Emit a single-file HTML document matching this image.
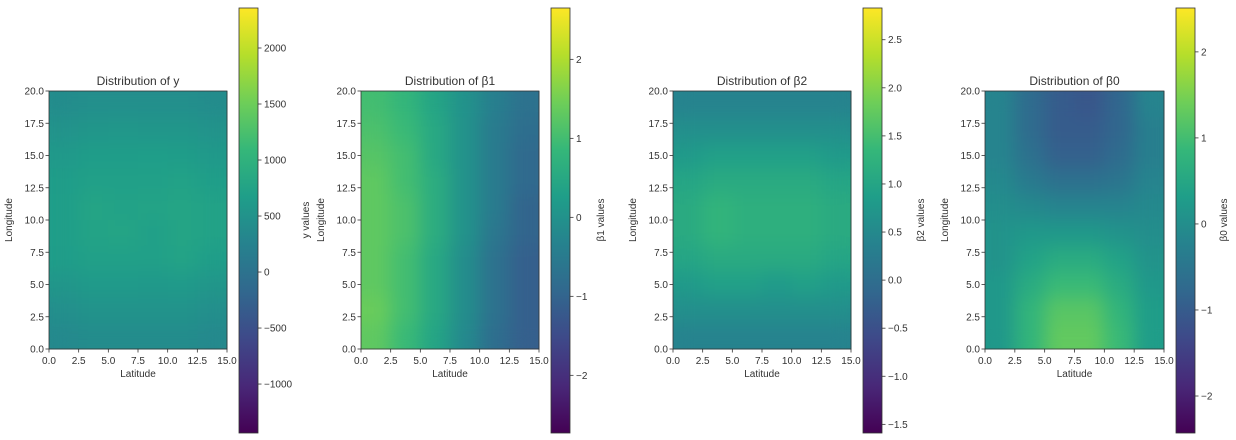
<!DOCTYPE html>
<html><head><meta charset="utf-8">
<style>
body{margin:0;background:#fff;width:1236px;height:440px;overflow:hidden}
svg{display:block}
text{font-family:"Liberation Sans","DejaVu Sans",sans-serif;fill:#333}
</style></head>
<body>
<svg id="fig" width="1236" height="440" xmlns="http://www.w3.org/2000/svg"></svg>
<script>
// ---- data (coarse field means, rows top->bottom, cols left->right) ----
const xTicks = [0, 2.5, 5, 7.5, 10, 12.5, 15];
const yTicks = [0, 2.5, 5, 7.5, 10, 12.5, 15, 17.5, 20];
const yField = [
 [400,450,450,450,450,400],
 [500,550,570,550,550,500],
 [600,650,650,670,650,600],
 [650,700,700,700,730,670],
 [670,770,730,750,770,730],
 [670,750,770,710,770,730],
 [650,700,700,700,750,670],
 [550,610,610,600,610,550],
 [450,500,500,500,500,450],
 [350,400,400,400,400,350]];
const b1Field = [
 [1.0,0.8,0.4,0.0,-0.4,-0.7],
 [1.1,0.9,0.5,0.0,-0.5,-0.8],
 [1.2,1.0,0.5,0.0,-0.5,-0.9],
 [1.3,1.0,0.6,0.0,-0.5,-0.9],
 [1.3,1.1,0.6,0.0,-0.5,-1.0],
 [1.3,1.1,0.6,0.0,-0.6,-1.0],
 [1.3,1.0,0.5,-0.1,-0.7,-1.1],
 [1.3,1.0,0.5,-0.1,-0.7,-1.1],
 [1.4,1.0,0.5,-0.1,-0.7,-1.1],
 [1.3,0.9,0.4,-0.2,-0.8,-1.1]];
const b2Field = [
 [0.4,0.4,0.4,0.4,0.4,0.4],
 [0.6,0.6,0.6,0.6,0.6,0.6],
 [0.8,0.9,0.9,0.9,0.9,0.8],
 [1.0,1.1,1.1,1.1,1.1,1.0],
 [1.1,1.3,1.2,1.2,1.2,1.1],
 [1.1,1.3,1.2,1.2,1.2,1.1],
 [1.0,1.1,1.1,1.1,1.1,1.0],
 [0.8,0.9,0.9,0.8,0.9,0.8],
 [0.6,0.6,0.6,0.6,0.6,0.6],
 [0.4,0.4,0.4,0.4,0.4,0.4]];
const b0Field = [
 [-0.2,-0.7,-1.0,-1.1,-0.8,-0.2],
 [-0.2,-0.7,-1.0,-1.0,-0.8,-0.3],
 [-0.2,-0.6,-0.9,-0.9,-0.7,-0.3],
 [-0.1,-0.4,-0.6,-0.6,-0.5,-0.2],
 [0.0,-0.1,-0.2,-0.2,-0.2,-0.1],
 [0.1,0.2,0.2,0.2,0.1,0.0],
 [0.1,0.4,0.6,0.6,0.4,0.1],
 [0.2,0.6,0.9,0.9,0.6,0.2],
 [0.2,0.8,1.2,1.2,0.8,0.3],
 [0.2,0.8,1.3,1.3,0.9,0.3]];
const cbTicksY = [-1000,-500,0,500,1000,1500,2000];
const cbTicksB1 = [-2,-1,0,1,2];
const cbTicksB2 = [-1.5,-1.0,-0.5,0.0,0.5,1.0,1.5,2.0,2.5];
const cbTicksB0 = [-2,-1,0,1,2];

const VIR = ["#440154","#482878","#3e4989","#31688e","#26828e","#1f9e89","#35b779","#6ece58","#b5de2b","#fde725"];
function hex(c){return [1,3,5].map(i=>parseInt(c.substr(i,2),16));}
function viridis(t){t=Math.max(0,Math.min(1,t));const s=t*(VIR.length-1);const i=Math.min(VIR.length-2,Math.floor(s));const f=s-i;
 const a=hex(VIR[i]),b=hex(VIR[i+1]);return "rgb("+a.map((v,k)=>Math.round(v+(b[k]-v)*f)).join(",")+")";}

const NS="http://www.w3.org/2000/svg";
const svg=document.getElementById('fig');
function mk(tag,attrs,parent){const e=document.createElementNS(NS,tag);for(const k in attrs)e.setAttribute(k,attrs[k]);(parent||svg).appendChild(e);return e;}
function txt(s,attrs,parent){const e=mk('text',attrs,parent);e.textContent=s;return e;}

const defs=mk('defs',{});
const grad=mk('linearGradient',{id:'vir',x1:0,y1:1,x2:0,y2:0},defs);
VIR.forEach((c,i)=>mk('stop',{offset:(i/(VIR.length-1)),'stop-color':c},grad));
const flt=mk('filter',{id:'smooth',x:0,y:0,width:1,height:1,'color-interpolation-filters':'sRGB'},defs);
mk('feGaussianBlur',{stdDeviation:9,edgeMode:'duplicate'},flt);
const ct=mk('feComponentTransfer',{},flt);
mk('feFuncA',{type:'table',tableValues:'1 1'},ct);

const panels=[
 {field:yField,title:"Distribution of y",ax:49,aw:178,cb:239,vmin:-1437,vmax:2357,ticks:cbTicksY,lab:"y values",lx:305,fmt:v=>v<0?"\u2212"+(-v):""+v,name:"y"},
 {field:b1Field,title:"Distribution of \u03b21",ax:361,aw:178,cb:551,vmin:-2.73,vmax:2.65,ticks:cbTicksB1,lab:"\u03b21 values",lx:600,fmt:v=>v<0?"\u2212"+(-v):""+v,name:"beta1"},
 {field:b2Field,title:"Distribution of \u03b22",ax:673,aw:178,cb:863,vmin:-1.59,vmax:2.83,ticks:cbTicksB2,lab:"\u03b22 values",lx:920,fmt:v=>v<0?"\u2212"+(-v).toFixed(1):v.toFixed(1),name:"beta2"},
 {field:b0Field,title:"Distribution of \u03b20",ax:985,aw:179,cb:1176,vmin:-2.43,vmax:2.51,ticks:cbTicksB0,lab:"\u03b20 values",lx:1223,fmt:v=>v<0?"\u2212"+(-v):""+v,name:"beta0"}
];
const AY=91, AH=258, CBY=8, CBH=425, CBW=19;

panels.forEach((p,pi)=>{
 const g=mk('g',{});
 
 
 const xs=v=>p.ax+v/15*p.aw, ys=v=>AY+AH-v/20*AH;
 const norm=v=>(v-p.vmin)/(p.vmax-p.vmin);
 const rows=p.field.length, cols=p.field[0].length;
 const hm=mk('g',{filter:'url(#smooth)'},g);
 
 
 p.field.forEach((row,r)=>row.forEach((v,c)=>{
  const x0=xs(c*15/cols), x1=xs((c+1)*15/cols), y0=ys(20-r*20/rows), y1=ys(20-(r+1)*20/rows);
  const rc=mk('rect',{x:x0,y:y0,width:x1-x0+0.5,height:y1-y0+0.5,fill:viridis(norm(v))},hm);
  
  
 }));
 const fr=mk('rect',{x:p.ax,y:AY,width:p.aw,height:AH,fill:'none',stroke:'#333','stroke-width':0.8},g);
 
 
 xTicks.forEach(v=>{
  mk('line',{x1:xs(v),x2:xs(v),y1:AY+AH,y2:AY+AH+3.5,stroke:'#333','stroke-width':0.8},g);
  const t=txt(v.toFixed(1),{x:xs(v),y:AY+AH+15,'font-size':10,'text-anchor':'middle'},g);
  
  
 });
 yTicks.forEach(v=>{
  mk('line',{x1:p.ax-3.5,x2:p.ax,y1:ys(v),y2:ys(v),stroke:'#333','stroke-width':0.8},g);
  const t=txt(v.toFixed(1),{x:p.ax-5,y:ys(v)+3.5,'font-size':10,'text-anchor':'end'},g);
  
  
 });
 const ti=txt(p.title,{x:p.ax+p.aw/2,y:AY-6,'font-size':12,'text-anchor':'middle'},g);
 
 
 const xl=txt("Latitude",{x:p.ax+p.aw/2,y:AY+AH+28,'font-size':10,'text-anchor':'middle'},g);
 
 
 const yx=p.ax-37, yy=AY+AH/2;
 const yl=txt("Longitude",{x:yx,y:yy,'font-size':10,'text-anchor':'middle',transform:`rotate(-90 ${yx} ${yy})`},g);
 
 
 const cb=mk('rect',{x:p.cb,y:CBY,width:CBW,height:CBH,fill:'url(#vir)',stroke:'#333','stroke-width':0.8},g);
 
 
 const cy=v=>CBY+CBH-(v-p.vmin)/(p.vmax-p.vmin)*CBH;
 p.ticks.forEach(v=>{
  mk('line',{x1:p.cb+CBW,x2:p.cb+CBW+3.5,y1:cy(v),y2:cy(v),stroke:'#333','stroke-width':0.8},g);
  const t=txt(p.fmt(v),{x:p.cb+CBW+6,y:cy(v)+3.5,'font-size':10},g);
  
  
 });
 const lx=p.lx+4, ly=220;
 const cl=txt(p.lab,{x:lx,y:ly,'font-size':10,'text-anchor':'middle',transform:`rotate(-90 ${lx} ${ly})`},g);
 
 
});
</script>
</body></html>
